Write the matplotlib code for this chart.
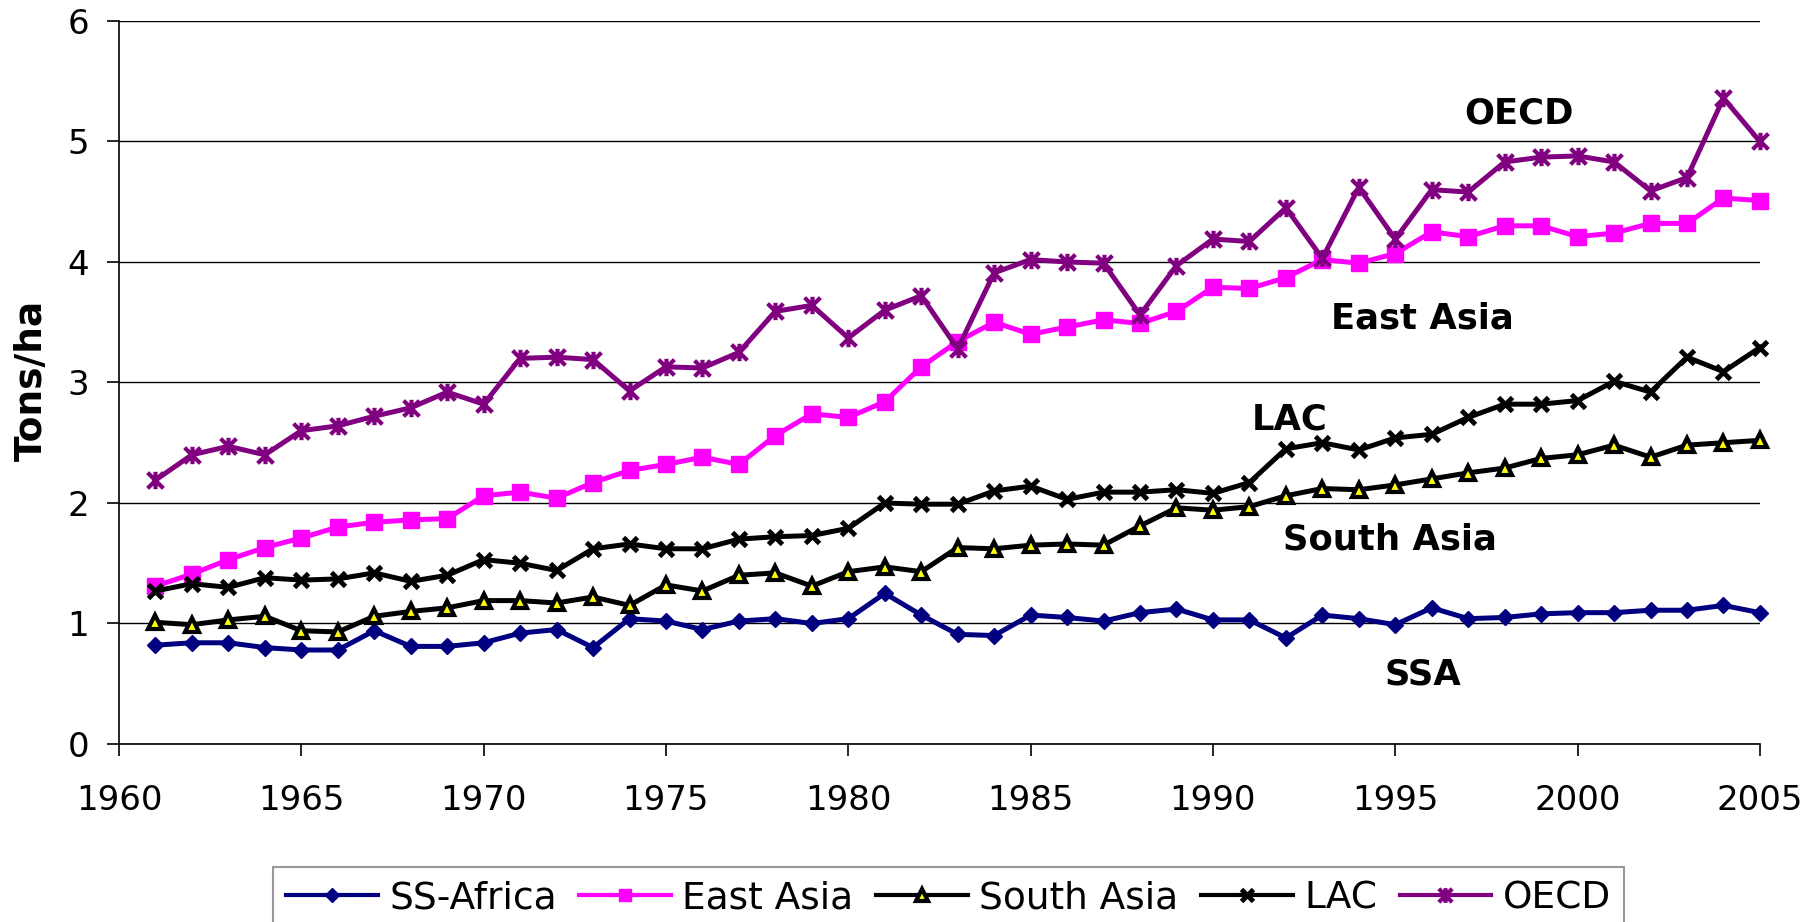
#  Cereal yields by region, 1961-2005 (tons per hectare)
import matplotlib
matplotlib.use("Agg")
from matplotlib import pyplot as plt
from matplotlib.path import Path

years = list(range(1961, 2006))

ss_africa = [0.82, 0.84, 0.84, 0.80, 0.78, 0.78, 0.94, 0.81, 0.81, 0.84,
             0.92, 0.95, 0.80, 1.04, 1.02, 0.95, 1.02, 1.04, 1.00, 1.04,
             1.25, 1.07, 0.91, 0.90, 1.07, 1.05, 1.02, 1.09, 1.12, 1.03,
             1.03, 0.88, 1.07, 1.04, 0.99, 1.13, 1.04, 1.05, 1.08, 1.09,
             1.09, 1.11, 1.11, 1.15, 1.09]
east_asia = [1.31, 1.41, 1.53, 1.63, 1.71, 1.80, 1.84, 1.86, 1.87, 2.06,
             2.09, 2.04, 2.17, 2.27, 2.32, 2.38, 2.32, 2.56, 2.74, 2.71,
             2.84, 3.13, 3.34, 3.50, 3.40, 3.46, 3.52, 3.49, 3.59, 3.79,
             3.78, 3.87, 4.02, 3.99, 4.07, 4.25, 4.21, 4.30, 4.30, 4.21,
             4.24, 4.32, 4.32, 4.53, 4.51]
south_asia = [1.01, 0.99, 1.03, 1.06, 0.94, 0.93, 1.06, 1.10, 1.13, 1.19,
              1.19, 1.17, 1.22, 1.15, 1.32, 1.27, 1.40, 1.42, 1.31, 1.43,
              1.47, 1.43, 1.63, 1.62, 1.65, 1.66, 1.65, 1.81, 1.96, 1.94,
              1.97, 2.06, 2.12, 2.11, 2.15, 2.20, 2.25, 2.29, 2.37, 2.40,
              2.48, 2.38, 2.48, 2.50, 2.52]
lac = [1.27, 1.33, 1.30, 1.38, 1.36, 1.37, 1.42, 1.35, 1.40, 1.53,
       1.50, 1.44, 1.62, 1.66, 1.62, 1.62, 1.70, 1.72, 1.73, 1.79,
       2.00, 1.99, 1.99, 2.10, 2.14, 2.03, 2.09, 2.09, 2.11, 2.08,
       2.17, 2.45, 2.50, 2.44, 2.54, 2.57, 2.71, 2.82, 2.82, 2.85,
       3.01, 2.92, 3.21, 3.09, 3.29]
oecd = [2.19, 2.40, 2.47, 2.40, 2.60, 2.64, 2.72, 2.79, 2.92, 2.82,
        3.20, 3.21, 3.19, 2.93, 3.13, 3.12, 3.25, 3.59, 3.64, 3.37,
        3.60, 3.72, 3.28, 3.91, 4.02, 4.00, 3.99, 3.56, 3.97, 4.19,
        4.17, 4.45, 4.03, 4.62, 4.19, 4.60, 4.58, 4.83, 4.87, 4.88,
        4.83, 4.59, 4.70, 5.36, 5.00]

# in-chart region labels: (text, year, value)
region_labels = [("OECD", 1998.4, 5.145),
                 ("East Asia", 1995.75, 3.444),
                 ("LAC", 1992.1, 2.606),
                 ("South Asia", 1994.85, 1.61),
                 ("SSA", 1995.75, 0.494)]

# excel style "star": an X with a vertical bar through it
star = Path([(-1, -1), (1, 1), (-1, 1), (1, -1), (0, -1.1), (0, 1.1)],
            [Path.MOVETO, Path.LINETO, Path.MOVETO, Path.LINETO,
             Path.MOVETO, Path.LINETO])

f = plt.figure(figsize=(18.18, 9.22), dpi=100)
ax = f.add_axes([0.06546, 0.19306, 0.9026, 0.7842])

lw = 3.6
ax.plot(years, ss_africa, color='#000080', lw=lw, marker='D', ms=8.5,
        mec='#000080', mfc='#000080', label='SS-Africa', clip_on=False, zorder=5)
ax.plot(years, east_asia, color='#FF00FF', lw=lw, marker='s', ms=11,
        mec='#FF00FF', mfc='#FF00FF', label='East Asia', clip_on=False, zorder=5)
ax.plot(years, south_asia, color='black', lw=lw, marker='^', ms=9.5, mew=3,
        mec='black', mfc='yellow', label='South Asia', clip_on=False, zorder=5)
ax.plot(years, lac, color='black', lw=lw, marker='x', ms=10.5, mew=3.5,
        mec='black', label='LAC', clip_on=False, zorder=5)
ax.plot(years, oecd, color='#800080', lw=lw, marker=star, ms=12.5, mew=3,
        mec='#800080', mfc='none', label='OECD', clip_on=False, zorder=5)

for txt, x, y in region_labels:
    ax.text(x, y, txt, fontsize=25.5, fontweight='bold', ha='center', va='baseline')

ax.set_xlim(1960, 2005)
ax.set_ylim(0, 6)
ax.set_xticks(range(1960, 2006, 5))
ax.set_yticks(range(0, 7))

ax.yaxis.grid(True, which='major', color='black', lw=1)
ax.set_axisbelow(True)
for side in ['top', 'right']:
    ax.spines[side].set_visible(False)
ax.spines['left'].set_linewidth(1.2)
ax.spines['bottom'].set_linewidth(1.2)

ax.tick_params(axis='both', labelsize=24.5, length=8.5, width=1.2, direction='out')
ax.tick_params(axis='x', pad=20)
ax.tick_params(axis='y', pad=13)

f.text(42 / 1818, 1 - 380 / 922, 'Tons/ha', rotation=90, rotation_mode='anchor',
       ha='center', va='baseline', fontsize=27, fontweight='bold')

leg = f.legend(loc='upper left', bbox_to_anchor=(273 / 1818, 1 - 867 / 922),
               ncol=5, fontsize=27, frameon=True, fancybox=False,
               edgecolor='#808080', handlelength=2.45, handletextpad=0.3,
               columnspacing=0.6, borderpad=0.35, borderaxespad=0,
               markerscale=0.85)
leg.get_frame().set_linewidth(1.5)
for line in leg.get_lines():
    line.set_linewidth(3)

f.savefig('out.png', dpi=100)
